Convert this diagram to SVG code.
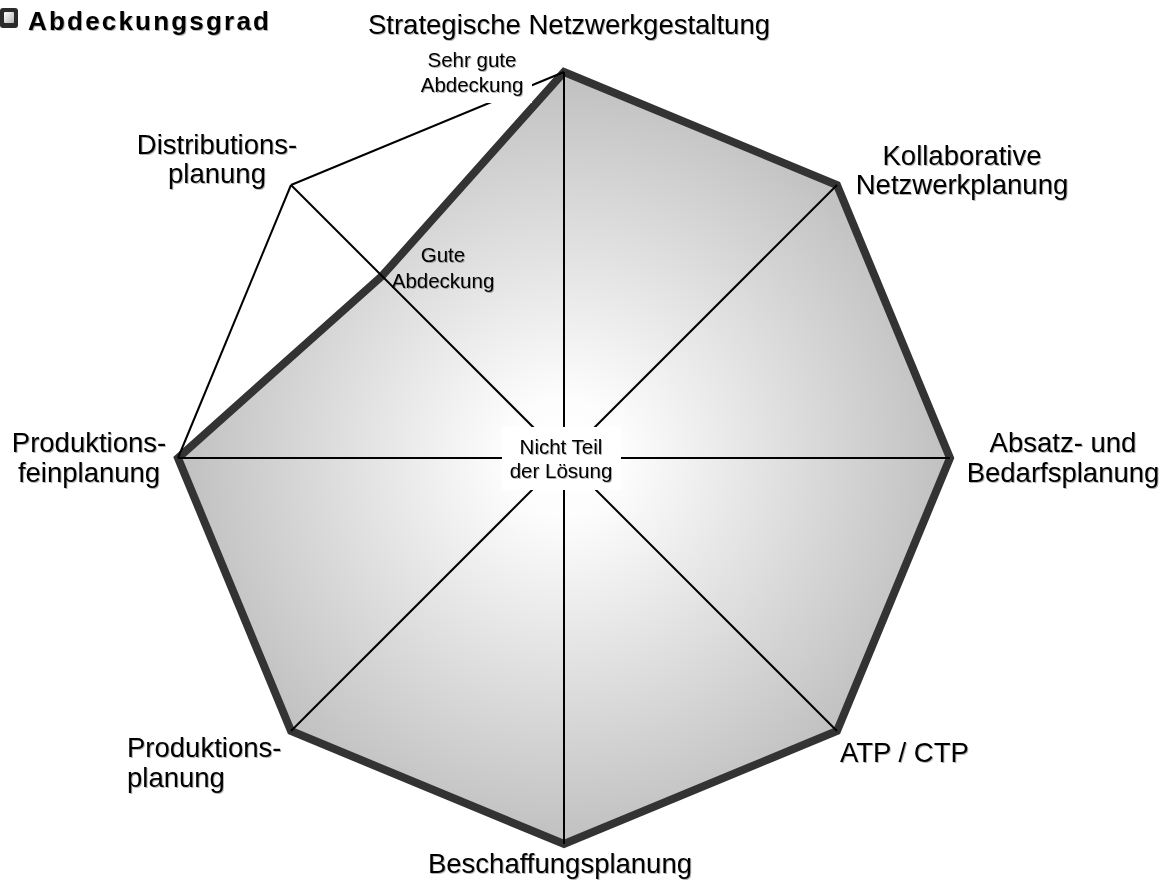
<svg xmlns="http://www.w3.org/2000/svg" width="1167" height="881" viewBox="0 0 1167 881">
<defs>
<radialGradient id="fillGrad" cx="564" cy="458" r="386" gradientUnits="userSpaceOnUse">
<stop offset="0" stop-color="#ffffff"/>
<stop offset="0.15" stop-color="#fdfdfd"/>
<stop offset="1" stop-color="#c0c0c0"/>
</radialGradient>
<linearGradient id="iconGrad" x1="0" y1="0" x2="1" y2="1">
<stop offset="0" stop-color="#ffffff"/>
<stop offset="1" stop-color="#b5b5b5"/>
</linearGradient>
<filter id="shadow" x="-5%" y="-5%" width="110%" height="120%">
<feDropShadow dx="1" dy="1" stdDeviation="0.6" flood-color="#000" flood-opacity="0.3"/>
</filter>
<style>
text{font-family:"Liberation Sans",Arial,sans-serif;fill:#000;}
.lbl{font-size:27.5px;}
.sm{font-size:20.5px;}
.c{text-anchor:middle;}
.spoke{stroke:#000;stroke-width:2;fill:none;}
.area{fill:url(#fillGrad);stroke:#333;stroke-width:8;stroke-linejoin:miter;}
.txt{filter:url(#shadow);}
</style>
</defs>
<rect width="1167" height="881" fill="#fff"/>

<g id="title">
<rect x="0" y="8" width="18" height="20" rx="3" fill="#2b2b2b"/>
<rect x="4" y="12" width="10" height="11" rx="1" fill="url(#iconGrad)"/>
<text x="28" y="30" style="font-size:26px;font-weight:bold;letter-spacing:2.2px" class="txt">Abdeckungsgrad</text>
</g>

<g id="coverage-area">
<polygon class="area" points="564,72 837,185 950,458 837,731 564,844 291,731 178,458 382,276"/>
</g>

<g id="connectors">
<line class="spoke" x1="564" y1="458" x2="564" y2="72"/>
<line class="spoke" x1="564" y1="458" x2="837" y2="185"/>
<line class="spoke" x1="564" y1="458" x2="950" y2="458"/>
<line class="spoke" x1="564" y1="458" x2="837" y2="731"/>
<line class="spoke" x1="564" y1="458" x2="564" y2="844"/>
<line class="spoke" x1="564" y1="458" x2="291" y2="731"/>
<line class="spoke" x1="564" y1="458" x2="178" y2="458"/>
<line class="spoke" x1="564" y1="458" x2="291" y2="185"/>
<line class="spoke" x1="178" y1="458" x2="291" y2="185"/>
<line class="spoke" x1="291" y1="185" x2="564" y2="72"/>
</g>

<g id="level-sehr-gute">
<rect x="412" y="45" width="120" height="58" fill="#fff"/>
<text class="sm c txt" x="472" y="67">Sehr gute</text>
<text class="sm c txt" x="472" y="92">Abdeckung</text>
</g>

<g id="level-gute">
<text class="sm c txt" x="443" y="262">Gute</text>
<text class="sm c txt" x="443" y="288">Abdeckung</text>
</g>

<g id="level-nicht">
<rect x="502" y="427" width="119" height="63" fill="#fff"/>
<text class="sm c txt" x="561" y="454">Nicht Teil</text>
<text class="sm c txt" x="561" y="478">der Lösung</text>
</g>

<g id="axis-strategische">
<text class="lbl c txt" x="569" y="34">Strategische Netzwerkgestaltung</text>
</g>
<g id="axis-kollaborative">
<text class="lbl c txt" x="962" y="165">Kollaborative</text>
<text class="lbl c txt" x="962" y="194">Netzwerkplanung</text>
</g>
<g id="axis-absatz">
<text class="lbl c txt" x="1063" y="452">Absatz- und</text>
<text class="lbl c txt" x="1063" y="482">Bedarfsplanung</text>
</g>
<g id="axis-atp">
<text class="lbl txt" x="840" y="762">ATP / CTP</text>
</g>
<g id="axis-beschaffung">
<text class="lbl c txt" x="560" y="873">Beschaffungsplanung</text>
</g>
<g id="axis-produktion">
<text class="lbl txt" x="127" y="757">Produktions-</text>
<text class="lbl txt" x="127" y="787">planung</text>
</g>
<g id="axis-feinplanung">
<text class="lbl c txt" x="89" y="452">Produktions-</text>
<text class="lbl c txt" x="89" y="482">feinplanung</text>
</g>
<g id="axis-distribution">
<text class="lbl c txt" x="217" y="154">Distributions-</text>
<text class="lbl c txt" x="217" y="183">planung</text>
</g>
</svg>
